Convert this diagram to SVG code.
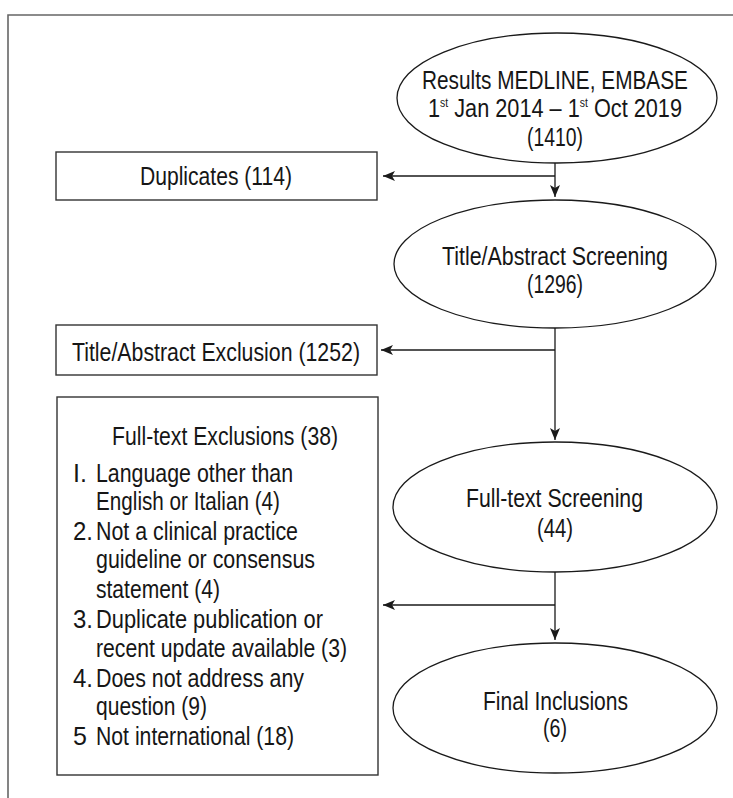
<svg xmlns="http://www.w3.org/2000/svg" width="733" height="798" viewBox="0 0 733 798">
<defs>
<style>
text{font-family:"Liberation Sans",Arial,sans-serif;font-size:25px;fill:#161616}
.box{fill:#fff;stroke:#333;stroke-width:1.4}
.ell{fill:#fff;stroke:#1a1a1a;stroke-width:1.3}
.con{fill:none;stroke:#1a1a1a;stroke-width:1.3}
.frame{fill:none;stroke:#666;stroke-width:1.6}
.sup{font-size:12px}
</style>
<marker id="arr" viewBox="0 0 12 10" refX="12" refY="5" markerWidth="12" markerHeight="10" markerUnits="userSpaceOnUse" orient="auto">
<path d="M0,0 L12,5 L0,10 L3,5 z" fill="#1a1a1a"/>
</marker>
</defs>
<rect width="733" height="798" fill="#fff"/>
<path class="frame" d="M8,798 V15 H733"/>
<g id="connectors">
<path class="con" d="M555,163 V197" marker-end="url(#arr)"/>
<path class="con" d="M555,176 H383" marker-end="url(#arr)"/>
<path class="con" d="M555,328 V440" marker-end="url(#arr)"/>
<path class="con" d="M555,350 H381" marker-end="url(#arr)"/>
<path class="con" d="M555,572 V640" marker-end="url(#arr)"/>
<path class="con" d="M555,605 H383" marker-end="url(#arr)"/>
</g>
<g id="results">
<ellipse class="ell" cx="557" cy="98" rx="160" ry="65"/>
<text x="422" y="89" textLength="266" lengthAdjust="spacingAndGlyphs">Results MEDLINE, EMBASE</text>
<text x="428" y="117" textLength="254" lengthAdjust="spacingAndGlyphs">1<tspan class="sup" dy="-10">st</tspan><tspan dy="10"> Jan 2014 – 1</tspan><tspan class="sup" dy="-10">st</tspan><tspan dy="10"> Oct 2019</tspan></text>
<text x="527" y="146" textLength="56" lengthAdjust="spacingAndGlyphs">(1410)</text>
</g>
<g id="duplicates">
<rect class="box" x="56" y="152" width="321" height="48"/>
<text x="140" y="185" textLength="152" lengthAdjust="spacingAndGlyphs">Duplicates (114)</text>
</g>
<g id="ta-screening">
<ellipse class="ell" cx="555" cy="264" rx="161" ry="64"/>
<text x="442" y="265" textLength="226" lengthAdjust="spacingAndGlyphs">Title/Abstract Screening</text>
<text x="527" y="293" textLength="56" lengthAdjust="spacingAndGlyphs">(1296)</text>
</g>
<g id="ta-exclusion">
<rect class="box" x="56" y="325" width="321" height="50"/>
<text x="72" y="361" textLength="288" lengthAdjust="spacingAndGlyphs">Title/Abstract Exclusion (1252)</text>
</g>
<g id="ft-exclusions">
<rect class="box" x="57" y="397" width="321" height="378"/>
<text x="112" y="445" textLength="226" lengthAdjust="spacingAndGlyphs">Full-text Exclusions (38)</text>
<text x="73" y="482">I.</text>
<text x="96" y="482" textLength="197" lengthAdjust="spacingAndGlyphs">Language other than</text>
<text x="96" y="510" textLength="184" lengthAdjust="spacingAndGlyphs">English or Italian (4)</text>
<text x="73" y="540" textLength="20" lengthAdjust="spacingAndGlyphs">2.</text>
<text x="96" y="540" textLength="202" lengthAdjust="spacingAndGlyphs">Not a clinical practice</text>
<text x="96" y="568" textLength="219" lengthAdjust="spacingAndGlyphs">guideline or consensus</text>
<text x="96" y="598" textLength="124" lengthAdjust="spacingAndGlyphs">statement (4)</text>
<text x="73" y="628" textLength="20" lengthAdjust="spacingAndGlyphs">3.</text>
<text x="96" y="628" textLength="227" lengthAdjust="spacingAndGlyphs">Duplicate publication or</text>
<text x="96" y="657" textLength="251" lengthAdjust="spacingAndGlyphs">recent update available (3)</text>
<text x="73" y="687" textLength="20" lengthAdjust="spacingAndGlyphs">4.</text>
<text x="96" y="687" textLength="208" lengthAdjust="spacingAndGlyphs">Does not address any</text>
<text x="96" y="715" textLength="111" lengthAdjust="spacingAndGlyphs">question (9)</text>
<text x="73" y="745">5</text>
<text x="96" y="745" textLength="198" lengthAdjust="spacingAndGlyphs">Not international (18)</text>
</g>
<g id="ft-screening">
<ellipse class="ell" cx="555" cy="507" rx="162" ry="65"/>
<text x="466" y="507" textLength="177" lengthAdjust="spacingAndGlyphs">Full-text Screening</text>
<text x="537" y="537" textLength="36" lengthAdjust="spacingAndGlyphs">(44)</text>
</g>
<g id="final">
<ellipse class="ell" cx="555" cy="708" rx="162" ry="65"/>
<text x="483" y="710" textLength="145" lengthAdjust="spacingAndGlyphs">Final Inclusions</text>
<text x="543" y="737" textLength="24" lengthAdjust="spacingAndGlyphs">(6)</text>
</g>
</svg>
